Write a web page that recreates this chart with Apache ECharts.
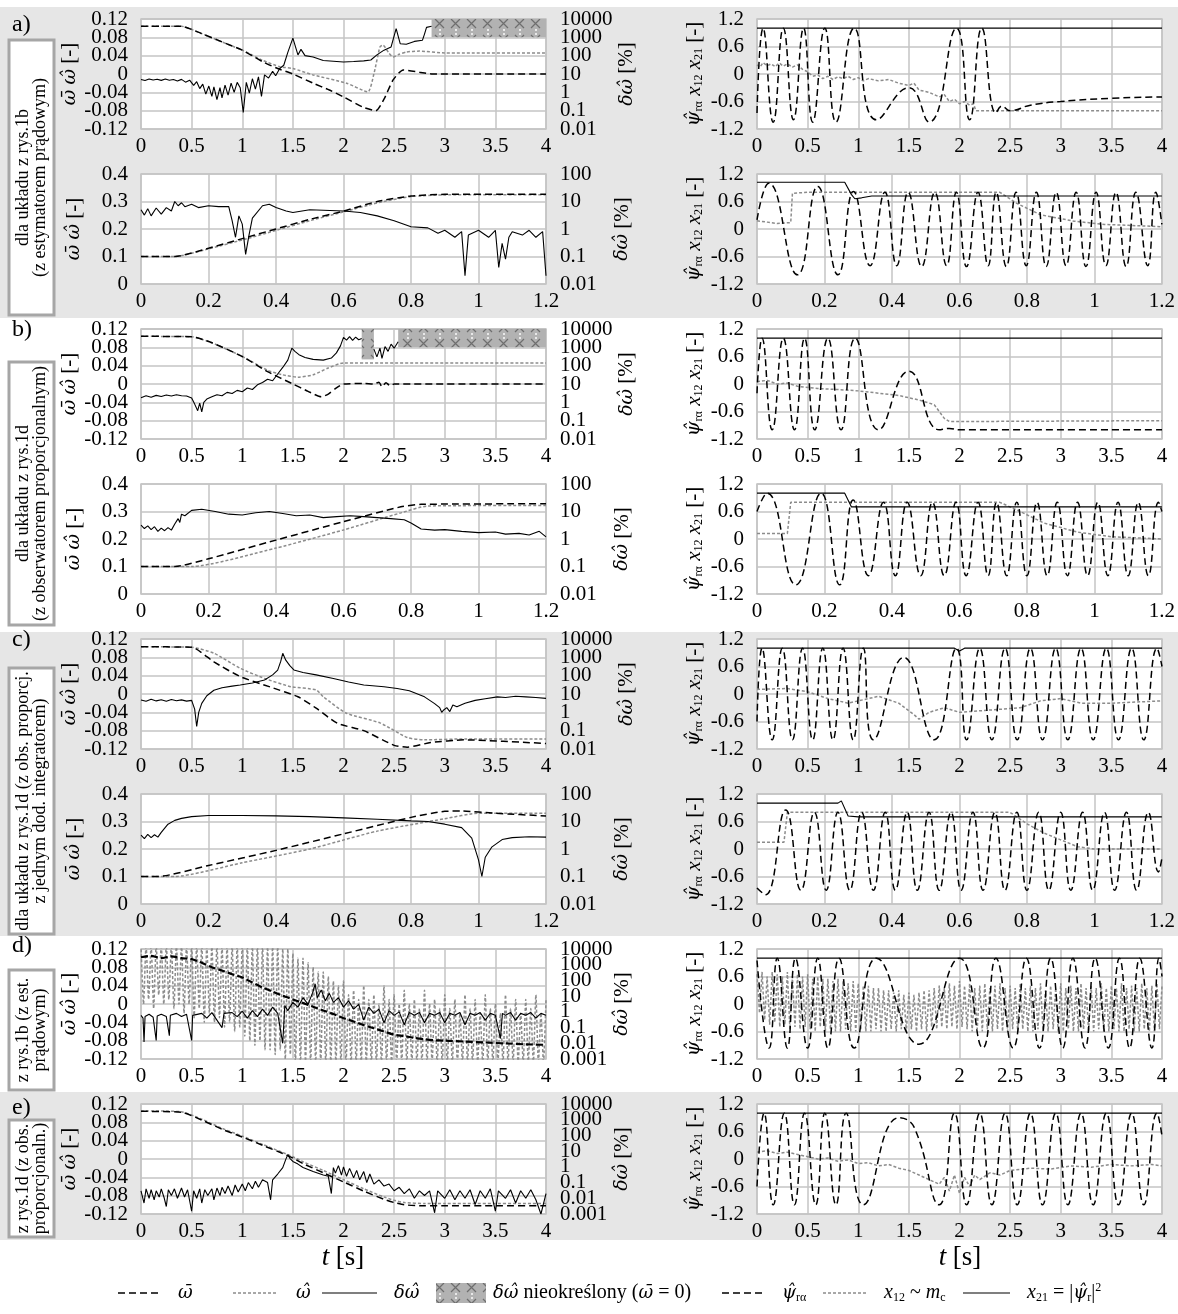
<!DOCTYPE html>
<html>
<head>
<meta charset="utf-8">
<script src="https://cdn.jsdelivr.net/npm/echarts@6.0.0/dist/echarts.min.js"></script>
<style>
html, body { margin: 0; padding: 0; background: #fff; }
#main { width: 1178px; height: 1314px; }
</style>
</head>
<body>
<div id="main"></div>
<script>
// ---- dane: [t, wartosc] ----
// a) gora: omega srednie, omega estymowane, blad (log)
const aTopBar = [[0,0.104],[0.4,0.104],[0.6,0.088],[0.8,0.07],[1.0,0.052],[1.2,0.027],[1.35,0.012],[1.5,0.0],[1.7,-0.02],[1.86,-0.035],[2.0,-0.05],[2.19,-0.072],[2.32,-0.08],[2.4,-0.055],[2.49,-0.013],[2.59,0.009],[2.75,0.004],[2.88,0.0],[4,0.0]];
const aTopHat = [[0,0.104],[0.4,0.104],[0.6,0.088],[0.8,0.07],[1.0,0.052],[1.2,0.03],[1.37,0.016],[1.5,0.012],[1.7,-0.002],[2.03,-0.02],[2.24,-0.039],[2.3,0.0],[2.36,0.059],[2.39,0.063],[2.45,0.045],[2.49,0.037],[2.55,0.043],[2.62,0.048],[2.75,0.05],[3.0,0.046],[4,0.046]];
const aTopDelta = [[0,5.0],[0.04,4.4],[0.08,5.4],[0.12,4.7],[0.16,5.2],[0.2,4.5],[0.24,5.3],[0.28,4.6],[0.32,5.0],[0.36,4.2],[0.4,5.1],[0.44,3.6],[0.48,4.6],[0.52,2.4],[0.55,3.8],[0.58,1.6],[0.61,2.8],[0.64,0.8],[0.67,2.2],[0.7,0.6],[0.72,2.0],[0.75,0.4],[0.78,1.8],[0.8,0.5],[0.83,2.5],[0.86,0.7],[0.89,3.2],[0.92,1.0],[0.95,3.5],[0.98,1.8],[1.01,0.08],[1.04,3.5],[1.07,0.9],[1.1,5.5],[1.13,1.5],[1.16,7],[1.19,0.6],[1.22,9],[1.26,6],[1.3,14],[1.33,8],[1.37,20],[1.41,30],[1.45,150],[1.5,900],[1.55,110],[1.58,220],[1.62,100],[1.7,85],[1.8,55],[1.9,50],[2.0,45],[2.1,48],[2.2,52],[2.27,58],[2.33,110],[2.4,200],[2.47,300],[2.52,3000],[2.56,450],[2.62,420],[2.7,600],[2.78,700],[2.8,1500],[2.82,3500],[2.87,4000]];
const aTopUndef = [[2.87, 4, 1000]];
// a) dol
const aBotBar = [[0,0.1],[0.1,0.1],[0.2,0.13],[0.3,0.165],[0.4,0.2],[0.5,0.235],[0.6,0.265],[0.7,0.3],[0.8,0.32],[0.9,0.326],[1.2,0.326]];
const aBotHat = [[0,0.1],[0.1,0.1],[0.2,0.128],[0.3,0.16],[0.4,0.195],[0.5,0.23],[0.6,0.262],[0.7,0.295],[0.8,0.318],[0.9,0.324],[1.2,0.325]];
const aBotDelta = [[0,5],[0.01,3.2],[0.02,5.5],[0.03,3.0],[0.045,5.8],[0.06,3.5],[0.075,6],[0.09,4.5],[0.1,10],[0.11,7],[0.12,9],[0.13,6.5],[0.15,8],[0.17,6],[0.2,7],[0.23,6.5],[0.26,6.5],[0.27,2.0],[0.28,0.5],[0.29,3],[0.3,1.5],[0.31,0.12],[0.32,0.6],[0.33,2.5],[0.36,7],[0.38,8],[0.4,6],[0.43,4.5],[0.45,4],[0.5,5],[0.6,4.5],[0.65,4],[0.7,3],[0.75,2],[0.8,1.2],[0.85,1.1],[0.88,0.7],[0.9,0.9],[0.93,0.5],[0.95,0.8],[0.96,0.02],[0.97,0.6],[1.0,0.9],[1.03,0.5],[1.05,0.9],[1.06,0.04],[1.07,0.3],[1.08,0.08],[1.09,0.5],[1.1,0.8],[1.13,0.6],[1.15,0.9],[1.17,0.5],[1.19,0.8],[1.2,0.02]];
// b) gora
const bTopBar = [[0,0.104],[0.5,0.103],[0.7,0.09],[1.0,0.06],[1.25,0.027],[1.5,0.0],[1.65,-0.016],[1.78,-0.028],[1.85,-0.022],[1.92,-0.01],[2.0,0.0],[2.2,0.001],[2.3,0.0],[2.35,0.004],[2.38,-0.006],[2.42,0.003],[2.46,-0.004],[2.5,0.0],[4,0.0]];
const bTopHat = [[0,0.104],[0.5,0.103],[0.7,0.09],[1.0,0.06],[1.25,0.03],[1.4,0.02],[1.55,0.015],[1.7,0.02],[1.85,0.035],[2.0,0.046],[4,0.046]];
const bTopDelta = [[0,1.8],[0.05,2.3],[0.1,1.9],[0.15,2.4],[0.2,2.1],[0.25,2.5],[0.3,2.2],[0.35,2.6],[0.4,2.3],[0.45,2.2],[0.5,1.7],[0.53,0.8],[0.56,0.35],[0.58,0.9],[0.6,0.3],[0.62,1.0],[0.65,1.5],[0.7,2.0],[0.75,2.6],[0.8,2.3],[0.85,3.5],[0.9,3.0],[0.95,4.5],[1.0,3.8],[1.05,6],[1.1,5],[1.15,9],[1.2,12],[1.25,18],[1.3,15],[1.35,35],[1.4,80],[1.45,200],[1.49,900],[1.52,600],[1.56,400],[1.62,280],[1.7,220],[1.8,200],[1.88,260],[1.93,500],[1.97,1200],[2.0,3500],[2.03,2500],[2.06,3800],[2.09,2400],[2.12,3600],[2.15,2600],[2.18,3000],[2.2,'-'],[2.3,800],[2.33,300],[2.36,900],[2.38,250],[2.41,1100],[2.44,600],[2.47,1500],[2.5,900],[2.54,2000]];
const bTopUndef = [[2.18, 2.3, 220], [2.54, 4, 1000]];
// b) dol
const bBotBar = [[0,0.1],[0.1,0.1],[0.2,0.128],[0.4,0.196],[0.6,0.263],[0.77,0.317],[0.83,0.326],[1.2,0.328]];
const bBotHat = [[0,0.1],[0.15,0.1],[0.4,0.167],[0.6,0.233],[0.77,0.295],[0.85,0.32],[1.2,0.322]];
const bBotDelta = [[0,3.2],[0.01,2.4],[0.02,3.0],[0.03,2.2],[0.04,2.8],[0.05,1.9],[0.06,2.5],[0.07,2.0],[0.08,2.6],[0.09,2.1],[0.1,3.5],[0.11,5.5],[0.115,4],[0.12,8],[0.13,7],[0.15,11],[0.18,12],[0.22,10],[0.26,8],[0.3,7.5],[0.34,9],[0.38,10],[0.42,8.5],[0.46,7],[0.5,7.5],[0.54,6],[0.58,6.5],[0.62,7],[0.66,6.5],[0.7,6],[0.74,5.5],[0.78,5],[0.8,3.8],[0.83,2.3],[0.87,2.1],[0.9,2.2],[0.95,1.9],[1.0,1.7],[1.05,1.8],[1.08,1.5],[1.12,1.6],[1.15,1.4],[1.18,1.9],[1.2,1.2]];
// c) gora
const cTopBar = [[0,0.103],[0.5,0.102],[0.72,0.07],[0.98,0.038],[1.28,0.015],[1.55,-0.006],[1.73,-0.031],[1.94,-0.064],[2.2,-0.08],[2.5,-0.112],[2.63,-0.116],[2.86,-0.106],[3.19,-0.1],[4,-0.108]];
const cTopHat = [[0,0.103],[0.5,0.102],[0.72,0.089],[0.98,0.056],[1.22,0.034],[1.48,0.016],[1.73,0.009],[1.8,-0.006],[2.03,-0.042],[2.36,-0.063],[2.63,-0.095],[2.8,-0.1],[3.2,-0.098],[4,-0.098]];
const cTopDelta = [[0,4.7],[0.05,4.0],[0.1,5.2],[0.15,4.2],[0.2,4.9],[0.25,4.0],[0.3,5.0],[0.35,4.3],[0.4,4.8],[0.45,4.1],[0.5,4.5],[0.53,1.5],[0.55,0.17],[0.57,1.0],[0.6,3.1],[0.65,8],[0.72,16],[0.8,22],[0.9,27],[0.98,31],[1.1,40],[1.22,58],[1.3,110],[1.35,200],[1.38,600],[1.4,1660],[1.43,700],[1.47,350],[1.51,204],[1.6,150],[1.73,110],[1.9,70],[2.05,45],[2.2,31],[2.4,25],[2.53,20],[2.65,15],[2.8,7],[2.9,3],[2.95,1.8],[2.97,1.0],[2.99,1.35],[3.02,1.8],[3.05,1.1],[3.08,2.5],[3.12,2.0],[3.2,3.1],[3.3,4.5],[3.4,5.5],[3.52,7],[3.6,6.5],[3.7,7.5],[3.8,7],[3.9,6.5],[4.0,5.8]];
// c) dol
const cBotBar = [[0,0.1],[0.05,0.1],[0.2,0.14],[0.4,0.195],[0.6,0.255],[0.8,0.315],[0.9,0.337],[0.95,0.338],[1.05,0.33],[1.2,0.32]];
const cBotHat = [[0,0.1],[0.1,0.1],[0.3,0.15],[0.5,0.2],[0.7,0.265],[0.9,0.31],[1.0,0.33],[1.2,0.33]];
const cBotDelta = [[0,3.2],[0.01,2.4],[0.02,3.4],[0.03,2.6],[0.04,3.3],[0.05,2.7],[0.06,4],[0.08,8],[0.1,11],[0.12,13],[0.15,15],[0.2,16.5],[0.3,16.5],[0.4,16],[0.5,15],[0.6,13.5],[0.7,12],[0.8,10.5],[0.85,10],[0.9,8],[0.95,6],[0.98,2.5],[1.0,0.4],[1.01,0.1],[1.02,0.5],[1.04,1.2],[1.07,2.2],[1.1,2.6],[1.15,2.8],[1.2,2.7]];
// d)
const dBar = [[0,0.102],[0.1,0.105],[0.2,0.1],[0.3,0.104],[0.4,0.1],[0.5,0.098],[0.6,0.09],[0.7,0.08],[0.8,0.073],[0.9,0.065],[1.0,0.058],[1.1,0.047],[1.2,0.036],[1.3,0.027],[1.4,0.018],[1.5,0.01],[1.6,0.002],[1.7,-0.006],[1.8,-0.014],[1.9,-0.022],[2.0,-0.031],[2.1,-0.038],[2.2,-0.046],[2.3,-0.053],[2.4,-0.06],[2.5,-0.067],[2.6,-0.07],[2.7,-0.074],[2.8,-0.077],[2.9,-0.079],[3.0,-0.08],[3.2,-0.082],[3.4,-0.084],[3.6,-0.086],[3.8,-0.088],[4.0,-0.089]];
const dHat = [[0,0.13],[0.025,0.0],[0.05,0.13],[0.075,0.01],[0.1,0.13],[0.125,-0.01],[0.15,0.13],[0.175,0.02],[0.2,0.13],[0.225,0.0],[0.25,0.13],[0.275,0.01],[0.3,0.13],[0.325,-0.01],[0.35,0.13],[0.375,0.0],[0.4,0.13],[0.425,-0.02],[0.45,0.13],[0.475,0.0],[0.5,0.13],[0.525,-0.03],[0.55,0.13],[0.575,-0.01],[0.6,0.13],[0.625,-0.04],[0.65,0.13],[0.675,-0.02],[0.7,0.13],[0.725,-0.04],[0.75,0.13],[0.775,-0.03],[0.8,0.13],[0.825,-0.05],[0.85,0.13],[0.875,-0.04],[0.9,0.13],[0.925,-0.06],[0.95,0.13],[0.975,-0.05],[1.0,0.13],[1.025,-0.07],[1.05,0.13],[1.075,-0.08],[1.1,0.13],[1.125,-0.09],[1.15,0.13],[1.175,-0.08],[1.2,0.13],[1.225,-0.1],[1.25,0.13],[1.275,-0.1],[1.3,0.13],[1.325,-0.11],[1.35,0.13],[1.375,-0.1],[1.4,0.12],[1.425,-0.12],[1.45,0.12],[1.475,-0.11],[1.5,0.11],[1.525,-0.13],[1.55,0.1],[1.575,-0.13],[1.6,0.1],[1.625,-0.13],[1.65,0.09],[1.675,-0.13],[1.7,0.08],[1.725,-0.13],[1.75,0.07],[1.775,-0.13],[1.8,0.07],[1.825,-0.13],[1.85,0.06],[1.875,-0.13],[1.9,0.05],[1.925,-0.13],[1.95,0.04],[1.975,-0.13],[2.0,0.05],[2.025,-0.13],[2.05,0.02],[2.075,-0.13],[2.1,0.03],[2.125,-0.13],[2.15,0.01],[2.175,-0.13],[2.2,0.04],[2.225,-0.13],[2.25,0.01],[2.275,-0.13],[2.3,0.02],[2.325,-0.13],[2.35,0.0],[2.375,-0.13],[2.4,0.04],[2.425,-0.13],[2.45,0.01],[2.475,-0.13],[2.5,0.02],[2.525,-0.13],[2.55,0.0],[2.575,-0.13],[2.6,0.03],[2.625,-0.13],[2.65,0.0],[2.675,-0.13],[2.7,0.01],[2.725,-0.13],[2.75,-0.01],[2.775,-0.13],[2.8,0.03],[2.825,-0.13],[2.85,0.0],[2.875,-0.13],[2.9,0.01],[2.925,-0.13],[2.95,-0.01],[2.975,-0.13],[3.0,0.02],[3.025,-0.13],[3.05,-0.01],[3.075,-0.13],[3.1,0.01],[3.125,-0.13],[3.15,-0.02],[3.175,-0.13],[3.2,0.02],[3.225,-0.13],[3.25,-0.01],[3.275,-0.13],[3.3,0.01],[3.325,-0.13],[3.35,-0.02],[3.375,-0.13],[3.4,0.02],[3.425,-0.13],[3.45,-0.01],[3.475,-0.13],[3.5,0.0],[3.525,-0.13],[3.55,-0.02],[3.575,-0.13],[3.6,0.02],[3.625,-0.13],[3.65,-0.01],[3.675,-0.13],[3.7,0.01],[3.725,-0.13],[3.75,-0.02],[3.775,-0.13],[3.8,0.01],[3.825,-0.13],[3.85,-0.01],[3.875,-0.13],[3.9,0.02],[3.925,-0.13],[3.95,-0.02],[3.975,-0.13],[4.0,0.01]];
const dDelta = [[0,0.6],[0.02,0.4],[0.03,0.012],[0.04,0.5],[0.08,0.7],[0.12,0.45],[0.15,0.015],[0.16,0.55],[0.2,0.7],[0.25,0.5],[0.28,0.03],[0.29,0.6],[0.35,0.8],[0.4,0.5],[0.45,0.7],[0.5,0.015],[0.51,0.6],[0.6,0.8],[0.65,0.4],[0.7,0.9],[0.75,0.3],[0.8,0.1],[0.82,0.8],[0.9,0.9],[0.95,0.5],[1.0,1.1],[1.05,0.4],[1.1,1.2],[1.15,0.5],[1.2,1.5],[1.25,0.6],[1.3,2],[1.35,0.8],[1.4,0.01],[1.42,2.5],[1.45,1.2],[1.5,4],[1.55,2],[1.6,8],[1.65,3],[1.7,20],[1.72,60],[1.74,8],[1.78,25],[1.82,5],[1.86,15],[1.9,4],[1.95,8],[2.0,2],[2.05,5],[2.1,1.5],[2.15,3],[2.2,0.3],[2.25,2],[2.3,0.8],[2.35,1.5],[2.4,0.2],[2.45,1.2],[2.5,0.6],[2.55,1],[2.6,0.15],[2.65,0.9],[2.7,0.6],[2.75,0.9],[2.8,0.2],[2.85,0.8],[2.9,0.6],[2.95,0.9],[3.0,0.2],[3.05,0.8],[3.1,0.6],[3.15,0.9],[3.2,0.15],[3.25,0.8],[3.3,0.6],[3.35,0.9],[3.4,0.3],[3.45,0.8],[3.5,0.6],[3.55,0.02],[3.57,0.8],[3.6,0.6],[3.65,0.9],[3.7,0.3],[3.75,0.8],[3.8,0.6],[3.85,0.9],[3.9,0.4],[3.95,0.8],[4.0,0.6]];
// e)
const eBar = [[0,0.104],[0.4,0.102],[0.6,0.085],[0.8,0.065],[1.0,0.048],[1.2,0.03],[1.4,0.012],[1.5,0.002],[1.6,-0.01],[1.8,-0.03],[2.0,-0.05],[2.2,-0.07],[2.4,-0.088],[2.5,-0.095],[2.6,-0.1],[2.8,-0.102],[3.0,-0.102],[3.5,-0.102],[4,-0.102]];
const eHat = [[0,0.105],[0.4,0.103],[0.6,0.087],[0.8,0.067],[1.0,0.05],[1.2,0.032],[1.4,0.014],[1.5,0.005],[1.6,-0.006],[1.8,-0.025],[2.0,-0.045],[2.2,-0.065],[2.4,-0.083],[2.5,-0.09],[2.6,-0.095],[2.8,-0.097],[3.0,-0.097],[4,-0.097]];
const eDelta = [[0,0.03],[0.03,0.005],[0.05,0.04],[0.08,0.01],[0.1,0.035],[0.13,0.008],[0.15,0.03],[0.18,0.012],[0.2,0.04],[0.23,0.01],[0.25,0.003],[0.27,0.035],[0.3,0.015],[0.33,0.04],[0.36,0.01],[0.4,0.045],[0.43,0.012],[0.46,0.035],[0.5,0.0015],[0.52,0.03],[0.55,0.01],[0.58,0.04],[0.6,0.005],[0.63,0.035],[0.66,0.015],[0.7,0.04],[0.72,0.008],[0.75,0.045],[0.78,0.015],[0.8,0.05],[0.83,0.02],[0.86,0.06],[0.9,0.015],[0.93,0.07],[0.96,0.025],[1.0,0.08],[1.03,0.03],[1.06,0.1],[1.1,0.04],[1.13,0.12],[1.16,0.05],[1.2,0.15],[1.25,0.1],[1.28,0.008],[1.3,0.15],[1.35,0.35],[1.4,0.9],[1.43,3],[1.45,6],[1.47,3.5],[1.5,2.2],[1.55,1.5],[1.6,0.9],[1.7,0.5],[1.8,0.3],[1.85,0.25],[1.88,0.02],[1.9,0.9],[1.92,0.4],[1.95,1.2],[1.98,0.3],[2.0,1.0],[2.03,0.25],[2.06,0.8],[2.1,0.2],[2.13,0.6],[2.16,0.15],[2.2,0.5],[2.23,0.1],[2.26,0.35],[2.3,0.08],[2.35,0.15],[2.4,0.06],[2.45,0.08],[2.5,0.03],[2.55,0.05],[2.6,0.02],[2.65,0.04],[2.7,0.01],[2.75,0.03],[2.8,0.015],[2.85,0.03],[2.9,0.0012],[2.93,0.03],[3.0,0.01],[3.05,0.035],[3.1,0.008],[3.15,0.03],[3.2,0.01],[3.25,0.035],[3.3,0.004],[3.35,0.03],[3.4,0.01],[3.45,0.04],[3.5,0.0015],[3.53,0.03],[3.6,0.01],[3.65,0.035],[3.7,0.005],[3.75,0.03],[3.8,0.01],[3.85,0.035],[3.9,0.008],[3.95,0.001],[4.0,0.02]];

// prawa kolumna: psi_ra, x12, x21
const aTopPsi = [[0,-0.85],[0.06,1.0],[0.16,-1.05],[0.26,1.0],[0.36,-1.0],[0.46,1.0],[0.55,-1.05],[0.67,1.0],[0.78,-1.05],[0.96,1.0],[1.18,-1.0],[1.5,-0.3],[1.7,-1.05],[1.97,1.0],[2.1,-1.0],[2.22,1.0],[2.36,-0.85],[2.42,-0.7],[2.5,-0.8],[2.7,-0.68],[3.0,-0.6],[3.5,-0.53],[4,-0.5]];
const aTopX12 = [[0,0.2],[0.03,0.15],[0.06,0.25],[0.1,0.18],[0.14,0.22],[0.18,0.16],[0.22,0.24],[0.26,0.17],[0.3,0.22],[0.35,0.15],[0.4,0.2],[0.45,0.1],[0.5,0.05],[0.55,-0.05],[0.6,-0.02],[0.65,-0.1],[0.7,-0.05],[0.75,-0.12],[0.8,-0.06],[0.85,-0.1],[0.9,-0.05],[0.95,-0.12],[1.0,-0.08],[1.05,-0.15],[1.1,-0.1],[1.2,-0.15],[1.3,-0.12],[1.4,-0.2],[1.5,-0.25],[1.55,-0.2],[1.6,-0.35],[1.7,-0.4],[1.8,-0.5],[1.85,-0.45],[1.9,-0.6],[1.95,-0.55],[2.0,-0.65],[2.05,-0.6],[2.1,-0.68],[2.14,-0.65],[2.16,-0.8],[4,-0.8]];
const aTopX21 = [[0,1.0],[4,1.0]];
const aBotPsi = [[0,0.2],[0.035,1.0],[0.12,-1.0],[0.18,0.93],[0.24,-1.0],[0.286,0.82],[0.335,-0.8],[0.379,0.8],[0.414,-0.8],[0.448,0.8],[0.488,-0.82],[0.527,0.8],[0.562,-0.8],[0.591,0.8],[0.621,-0.82],[0.655,0.8],[0.685,-0.8],[0.709,0.8],[0.739,-0.82],[0.768,0.8],[0.798,-0.8],[0.828,0.8],[0.857,-0.82],[0.887,0.8],[0.916,-0.8],[0.946,0.8],[0.975,-0.82],[1.005,0.8],[1.034,-0.8],[1.064,0.8],[1.094,-0.82],[1.123,0.8],[1.158,-0.8],[1.182,0.8],[1.2,0.1]];
const aBotX12 = [[0,0.18],[0.03,0.15],[0.06,0.12],[0.1,0.14],[0.105,0.78],[0.15,0.8],[0.72,0.8],[0.77,0.56],[0.84,0.31],[0.94,0.17],[1.03,0.1],[1.1,0.08],[1.2,0.05]];
const aBotX21 = [[0,1.02],[0.26,1.02],[0.28,0.75],[0.29,0.66],[0.31,0.68],[0.34,0.72],[1.2,0.72]];
const bTopPsi = [[0,-0.2],[0.05,1.0],[0.15,-1.0],[0.26,1.0],[0.37,-1.0],[0.47,1.0],[0.57,-1.0],[0.7,1.0],[0.83,-1.0],[0.97,1.0],[1.2,-1.0],[1.5,0.28],[1.8,-1.0],[1.9,-0.97],[2.0,-1.0],[4,-1.0]];
const bTopX12 = [[0,0.05],[0.1,0.08],[0.2,0.0],[0.3,0.02],[0.4,-0.05],[0.6,-0.1],[0.8,-0.12],[1.0,-0.15],[1.2,-0.2],[1.4,-0.25],[1.6,-0.35],[1.75,-0.45],[1.85,-0.75],[1.9,-0.82],[4,-0.8]];
const bTopX21 = [[0,1.0],[4,1.0]];
const bBotPsi = [[0,0.6],[0.03,1.0],[0.115,-1.0],[0.19,1.0],[0.245,-1.0],[0.285,0.85],[0.33,-0.8],[0.375,0.8],[0.41,-0.8],[0.445,0.8],[0.485,-0.8],[0.52,0.8],[0.555,-0.8],[0.59,0.8],[0.62,-0.8],[0.655,0.8],[0.685,-0.8],[0.71,0.8],[0.74,-0.8],[0.77,0.8],[0.8,-0.8],[0.83,0.8],[0.86,-0.8],[0.89,0.8],[0.92,-0.8],[0.95,0.8],[0.98,-0.8],[1.01,0.8],[1.04,-0.8],[1.07,0.8],[1.1,-0.8],[1.13,0.8],[1.16,-0.8],[1.19,0.8],[1.2,0.6]];
const bBotX12 = [[0,0.12],[0.09,0.12],[0.1,0.8],[0.72,0.8],[0.78,0.6],[0.85,0.35],[0.95,0.15],[1.05,0.05],[1.2,0.0]];
const bBotX21 = [[0,1.0],[0.26,1.0],[0.28,0.7],[1.2,0.7]];
const cTopPsi = [[0,-0.6],[0.05,1.0],[0.15,-1.0],[0.25,1.0],[0.35,-1.0],[0.45,1.0],[0.55,-1.0],[0.65,1.0],[0.75,-1.0],[0.85,1.0],[0.95,-1.0],[1.05,1.0],[1.15,-1.0],[1.45,0.8],[1.75,-1.0],[1.97,1.0],[2.07,-1.0],[2.2,1.0],[2.32,-1.0],[2.45,1.0],[2.57,-1.0],[2.7,1.0],[2.82,-1.0],[2.95,1.0],[3.07,-1.0],[3.2,1.0],[3.32,-1.0],[3.45,1.0],[3.57,-1.0],[3.7,1.0],[3.82,-1.0],[3.95,1.0],[4,0.6]];
const cTopX12 = [[0,0.1],[0.3,0.12],[0.5,0.05],[0.7,-0.1],[0.9,-0.2],[1.0,-0.15],[1.2,-0.05],[1.4,-0.2],[1.55,-0.45],[1.6,-0.55],[1.7,-0.4],[1.85,-0.3],[2.0,-0.4],[2.3,-0.35],[2.6,-0.3],[2.8,-0.15],[3.0,-0.1],[3.2,-0.2],[3.5,-0.2],[4,-0.15]];
const cTopX21 = [[0,1.0],[1.95,1.0],[2.0,0.94],[2.05,1.0],[4,1.0]];
const cBotPsi = [[0,-0.85],[0.025,-1.0],[0.085,0.85],[0.13,-0.9],[0.17,0.8],[0.205,-0.9],[0.24,0.8],[0.275,-0.9],[0.31,0.8],[0.345,-0.9],[0.38,0.8],[0.41,-0.9],[0.445,0.8],[0.475,-0.9],[0.51,0.8],[0.54,-0.9],[0.575,0.8],[0.605,-0.9],[0.64,0.8],[0.67,-0.9],[0.705,0.8],[0.735,-0.9],[0.77,0.8],[0.8,-0.9],[0.835,0.8],[0.865,-0.9],[0.9,0.8],[0.93,-0.9],[0.965,0.8],[0.995,-0.9],[1.03,0.8],[1.06,-0.9],[1.095,0.8],[1.125,-0.9],[1.16,0.8],[1.19,-0.5],[1.2,-0.2]];
const cBotX12 = [[0,0.15],[0.08,0.15],[0.09,0.8],[0.75,0.8],[0.8,0.55],[0.85,0.35],[0.9,0.2],[0.95,0.05],[1.0,0.0],[1.2,0.0]];
const cBotX21 = [[0,1.0],[0.24,1.0],[0.25,1.05],[0.27,0.72],[0.3,0.7],[1.2,0.7]];
const dPsi = [[0,0.95],[0.12,-0.96],[0.2,1.0],[0.3,-0.96],[0.38,1.0],[0.5,-0.96],[0.6,1.0],[0.7,-0.96],[0.81,1.0],[0.96,-0.96],[1.18,1.0],[1.6,-0.88],[2.0,1.0],[2.23,-0.96],[2.36,1.0],[2.53,-0.96],[2.66,1.0],[2.79,-0.96],[2.9,1.0],[3.02,-0.96],[3.12,1.0],[3.24,-0.96],[3.34,1.0],[3.47,-0.96],[3.58,1.0],[3.68,-0.96],[3.78,1.0],[3.9,-0.96],[3.97,1.0],[4.0,0.6]];
const dX12 = [[0,0.65],[0.025,-0.2],[0.05,0.7],[0.075,-0.35],[0.1,0.6],[0.125,-0.45],[0.15,0.7],[0.175,-0.4],[0.2,0.65],[0.225,-0.5],[0.25,0.6],[0.275,-0.45],[0.3,0.7],[0.325,-0.55],[0.35,0.6],[0.375,-0.5],[0.4,0.65],[0.425,-0.55],[0.45,0.6],[0.475,-0.5],[0.5,0.65],[0.525,-0.55],[0.55,0.55],[0.575,-0.6],[0.6,0.6],[0.625,-0.5],[0.65,0.55],[0.675,-0.6],[0.7,0.55],[0.725,-0.55],[0.75,0.5],[0.775,-0.6],[0.8,0.55],[0.825,-0.6],[0.85,0.5],[0.875,-0.55],[0.9,0.45],[0.925,-0.6],[0.95,0.5],[0.975,-0.6],[1.0,0.45],[1.025,-0.55],[1.05,0.4],[1.075,-0.6],[1.1,0.4],[1.125,-0.6],[1.15,0.35],[1.175,-0.55],[1.2,0.35],[1.225,-0.6],[1.25,0.3],[1.275,-0.6],[1.3,0.3],[1.325,-0.55],[1.35,0.25],[1.375,-0.6],[1.4,0.3],[1.425,-0.55],[1.45,0.2],[1.475,-0.6],[1.5,0.25],[1.525,-0.55],[1.55,0.2],[1.575,-0.6],[1.6,0.25],[1.625,-0.55],[1.65,0.3],[1.675,-0.6],[1.7,0.3],[1.725,-0.5],[1.75,0.35],[1.775,-0.55],[1.8,0.4],[1.825,-0.5],[1.85,0.35],[1.875,-0.55],[1.9,0.45],[1.925,-0.5],[1.95,0.4],[1.975,-0.55],[2.0,0.5],[2.025,-0.5],[2.05,0.4],[2.075,-0.55],[2.1,0.45],[2.125,-0.6],[2.15,0.35],[2.175,-0.55],[2.2,0.4],[2.225,-0.6],[2.25,0.45],[2.275,-0.55],[2.3,0.35],[2.325,-0.6],[2.35,0.4],[2.375,-0.55],[2.4,0.45],[2.425,-0.6],[2.45,0.35],[2.475,-0.6],[2.5,0.4],[2.525,-0.55],[2.55,0.35],[2.575,-0.6],[2.6,0.45],[2.625,-0.55],[2.65,0.35],[2.675,-0.6],[2.7,0.4],[2.725,-0.6],[2.75,0.35],[2.775,-0.55],[2.8,0.45],[2.825,-0.6],[2.85,0.3],[2.875,-0.6],[2.9,0.4],[2.925,-0.55],[2.95,0.35],[2.975,-0.6],[3.0,0.45],[3.025,-0.6],[3.05,0.35],[3.075,-0.55],[3.1,0.4],[3.125,-0.6],[3.15,0.35],[3.175,-0.6],[3.2,0.45],[3.225,-0.55],[3.25,0.35],[3.275,-0.6],[3.3,0.4],[3.325,-0.6],[3.35,0.35],[3.375,-0.55],[3.4,0.45],[3.425,-0.6],[3.45,0.35],[3.475,-0.6],[3.5,0.4],[3.525,-0.55],[3.55,0.35],[3.575,-0.6],[3.6,0.45],[3.625,-0.6],[3.65,0.35],[3.675,-0.55],[3.7,0.4],[3.725,-0.6],[3.75,0.35],[3.775,-0.6],[3.8,0.45],[3.825,-0.55],[3.85,0.35],[3.875,-0.6],[3.9,0.4],[3.925,-0.6],[3.95,0.45],[3.975,-0.55],[4.0,0.4]];
const dX21 = [[0,1.0],[4,1.0]];
const ePsi = [[0,-0.6],[0.07,1.0],[0.16,-1.0],[0.27,1.0],[0.37,-1.0],[0.47,1.0],[0.58,-1.0],[0.67,1.0],[0.78,-1.0],[0.88,1.0],[1.05,-1.0],[1.4,0.9],[1.55,0.7],[1.8,-1.0],[1.95,1.0],[2.07,-1.0],[2.2,1.0],[2.32,-1.0],[2.45,1.0],[2.57,-1.0],[2.7,1.0],[2.82,-1.0],[2.95,1.0],[3.07,-1.0],[3.2,1.0],[3.32,-1.0],[3.45,1.0],[3.57,-1.0],[3.7,1.0],[3.82,-1.0],[3.95,1.0],[4.0,0.5]];
const eX12 = [[0,0.15],[0.1,0.18],[0.2,0.12],[0.3,0.15],[0.4,0.1],[0.5,0.05],[0.6,0.0],[0.7,0.02],[0.8,-0.05],[0.9,-0.02],[1.0,-0.1],[1.1,-0.08],[1.2,-0.15],[1.3,-0.12],[1.4,-0.2],[1.5,-0.25],[1.6,-0.35],[1.7,-0.45],[1.8,-0.55],[1.85,-0.4],[1.9,-0.7],[1.95,-0.35],[2.0,-0.75],[2.05,-0.4],[2.1,-0.6],[2.15,-0.35],[2.2,-0.45],[2.3,-0.3],[2.4,-0.35],[2.5,-0.25],[2.7,-0.2],[2.9,-0.22],[3.1,-0.15],[3.3,-0.18],[3.5,-0.12],[3.7,-0.15],[3.9,-0.12],[4,-0.15]];
const eX21 = [[0,1.0],[4,1.0]];

// podzialki osi
const timeLong = [0, 4, 0.5];
const timeShort = [0, 1.2, 0.2];
const yTopTicks = [-0.12, -0.08, -0.04, 0, 0.04, 0.08, 0.12];
const yBotTicks = [0, 0.1, 0.2, 0.3, 0.4];
const yRightTicks = [-1.2, -0.6, 0, 0.6, 1.2];
const logTicks6 = [0.01, 0.1, 1, 10, 100, 1000, 10000];
const logTicks4 = [0.01, 0.1, 1, 10, 100];
const logTicks7 = [0.001, 0.01, 0.1, 1, 10, 100, 1000, 10000];
const boxTexts = [
  ['dla układu z rys.1b', '(z estymatorem prądowym)'],
  ['dla układu z rys.1d', '(z obserwatorem proporcjonalnym)'],
  ['dla układu z rys.1d (z obs. proporcj.', 'z jednym dod. integratorem)'],
  ['z rys.1b (z est.', 'prądowym)'],
  ['z rys.1d (z obs.', 'proporcjonaln.)']
];
const sectionLetters = ['a)', 'b)', 'c)', 'd)', 'e)'];

// ---- wyglad ----
const FONT = '"Liberation Serif", "Times New Roman", serif';
const GFONT = '"DejaVu Serif", serif';
const GRID_C = '#c4c4c4';
const TOPS = [19, 174, 329, 484, 639, 794, 949, 1104];
const PH = 110;

function makeHatch() {
  const c = document.createElement('canvas');
  c.width = 16; c.height = 16;
  const g = c.getContext('2d');
  g.fillStyle = '#b2b2b2'; g.fillRect(0, 0, 16, 16);
  g.strokeStyle = '#6e6e6e'; g.lineWidth = 1.2;
  g.beginPath();
  g.moveTo(3, 3); g.lineTo(12, 12); g.moveTo(12, 3); g.lineTo(3, 12);
  g.stroke();
  g.fillStyle = '#e8e8e8';
  g.fillRect(7, 1, 2, 2); g.fillRect(7, 13, 2, 2);
  return c;
}
const hatch = makeHatch();

const grids = [], xAxes = [], yAxes = [], series = [];
// etykiety jako rich text, bo zwykly tekst gubi czcionke szeryfowa
const num = { fontFamily: FONT, fontSize: 21, color: '#000' };
const fmt = v => '{n|' + String(+(+v).toFixed(2)) + '}';
const fmtLog = v => '{n|' + String(+(+v).toPrecision(2)) + '}';
const lbl = { color: '#000', fontFamily: FONT, fontSize: 21 };
const greek = { fontStyle: 'italic', fontFamily: GFONT, fontSize: 19 };
const ital = { fontStyle: 'italic', fontFamily: FONT, fontSize: 21 };
const plain = { fontFamily: FONT, fontSize: 21 };
const sub = { fontFamily: FONT, fontSize: 12, verticalAlign: 'bottom', padding: [10, 0, 0, 0] };

const styles = {
  blackDash: { color: '#000', width: 1.5, type: [7, 4] },
  blackDashBold: { color: '#000', width: 2.2, type: [7, 3] },
  grayDash: { color: '#8c8c8c', width: 1.5, type: [3, 2] },
  solid: { color: '#000', width: 1.1 }
};
const noLine = { show: false };

function addLine(xi, yi, data, st, smooth, extra) {
  series.push(Object.assign({
    type: 'line', xAxisIndex: xi, yAxisIndex: yi, data: data,
    showSymbol: false, symbol: 'none', smooth: smooth || false,
    lineStyle: styles[st], silent: true, animation: false
  }, extra || {}));
}

function addXAxis(gi, ticks) {
  xAxes.push({
    gridIndex: gi, type: 'value', min: ticks[0], max: ticks[1], interval: ticks[2],
    axisLine: noLine, axisTick: noLine,
    splitLine: { show: true, lineStyle: { color: GRID_C, width: 1.5 } },
    axisLabel: { margin: 7, formatter: fmt, showMinLabel: true, showMaxLabel: true, rich: { n: num } }
  });
  return xAxes.length - 1;
}

function addGrid(left, top) {
  grids.push({ left: left, top: top, width: 405, height: PH, show: true,
    backgroundColor: '#fff', borderColor: GRID_C, borderWidth: 1.5 });
  return grids.length - 1;
}

// gesto ulozone etykiety dzielone na dwie nakladajace sie osie (co druga),
// zeby ECharts nie ukrywal zadnej z nich
function labelAxes(gi, type, pos, ticks, margin, formatter, main) {
  const halves = [ticks.filter((v, i) => i % 2 === 0), ticks.filter((v, i) => i % 2 === 1)];
  const first = yAxes.length;
  halves.forEach((vals, k) => {
    const ax = {
      gridIndex: gi, type: type, min: ticks[0], max: ticks[ticks.length - 1], position: pos,
      axisLine: noLine, axisTick: noLine, splitLine: noLine,
      axisLabel: { margin: margin, formatter: formatter, customValues: vals,
        showMinLabel: true, showMaxLabel: true, rich: { n: num } }
    };
    if (type === 'log') { ax.logBase = 10; ax.splitNumber = ticks.length - 1; }
    else { ax.interval = ticks[1] - ticks[0]; }
    if (k === 0) Object.assign(ax, main);
    yAxes.push(ax);
  });
  return first;
}

function leftPanel(row, ticks, yTicks, logT, bar, hat, delta, undef, barStyle) {
  const gi = addGrid(141, TOPS[row]);
  const xi = addXAxis(gi, ticks);
  const logMax = logT[logT.length - 1];
  const yl = labelAxes(gi, 'value', 'left', yTicks, 13, fmt, {
    splitLine: { show: true, lineStyle: { color: GRID_C, width: 1.5 } },
    name: '{g|\u03c9\u0304} {g|\u03c9\u0302} {p|[-]}', nameLocation: 'middle', nameRotate: 90, nameGap: 56,
    nameTextStyle: Object.assign({ rich: { g: greek, p: plain } }, lbl)
  });
  const yr = labelAxes(gi, 'log', 'right', logT, 14, fmtLog, {
    name: '{g|\u03b4\u03c9\u0302} {p|[%]}', nameLocation: 'middle', nameRotate: 90, nameGap: 66,
    nameTextStyle: Object.assign({ rich: { g: greek, p: plain } }, lbl)
  });
  addLine(xi, yl, hat, 'grayDash', 0.2);
  addLine(xi, yl, bar, barStyle || 'blackDash', 0.2);
  const extra = {};
  if (undef) {
    extra.markArea = {
      silent: true,
      itemStyle: { color: { image: hatch, repeat: 'repeat' } },
      data: undef.map(u => [{ xAxis: u[0], yAxis: u[2] }, { xAxis: u[1], yAxis: logMax }])
    };
  }
  addLine(xi, yr, delta, 'solid', false, extra);
}

function rightPanel(row, ticks, psi, x12, x21) {
  const gi = addGrid(757, TOPS[row]);
  const xi = addXAxis(gi, ticks);
  yAxes.push({
    gridIndex: gi, type: 'value', min: -1.2, max: 1.2, interval: 0.6,
    axisLine: noLine, axisTick: noLine,
    splitLine: { show: true, lineStyle: { color: GRID_C, width: 1.5 } },
    axisLabel: { margin: 13, formatter: fmt, customValues: yRightTicks, showMinLabel: true, showMaxLabel: true, rich: { n: num } },
    name: '{g|\u03c8\u0302}{s|r\u03b1} {i|x}{s|12} {i|x}{s|21} {p|[-]}',
    nameLocation: 'middle', nameRotate: 90, nameGap: 52,
    nameTextStyle: Object.assign({ rich: { g: greek, i: ital, s: sub, p: plain } }, lbl)
  });
  const yi = yAxes.length - 1;
  addLine(xi, yi, x12, 'grayDash', false);
  addLine(xi, yi, psi, 'blackDash', 0.5);
  addLine(xi, yi, x21, 'solid', false);
}

const L = timeLong, S = timeShort;
leftPanel(0, L, yTopTicks, logTicks6, aTopBar, aTopHat, aTopDelta, aTopUndef);
leftPanel(1, S, yBotTicks, logTicks4, aBotBar, aBotHat, aBotDelta);
leftPanel(2, L, yTopTicks, logTicks6, bTopBar, bTopHat, bTopDelta, bTopUndef);
leftPanel(3, S, yBotTicks, logTicks4, bBotBar, bBotHat, bBotDelta);
leftPanel(4, L, yTopTicks, logTicks6, cTopBar, cTopHat, cTopDelta);
leftPanel(5, S, yBotTicks, logTicks4, cBotBar, cBotHat, cBotDelta);
leftPanel(6, L, yTopTicks, logTicks7, dBar, dHat, dDelta, null, 'blackDashBold');
leftPanel(7, L, yTopTicks, logTicks7, eBar, eHat, eDelta);
rightPanel(0, L, aTopPsi, aTopX12, aTopX21);
rightPanel(1, S, aBotPsi, aBotX12, aBotX21);
rightPanel(2, L, bTopPsi, bTopX12, bTopX21);
rightPanel(3, S, bBotPsi, bBotX12, bBotX21);
rightPanel(4, L, cTopPsi, cTopX12, cTopX21);
rightPanel(5, S, cBotPsi, cBotX12, cBotX21);
rightPanel(6, L, dPsi, dX12, dX21);
rightPanel(7, L, ePsi, eX12, eX21);

// tla sekcji, ramki z opisem, litery
const graphic = [];
[[7, 311], [632, 304], [1092, 148]].forEach(b => {
  graphic.push({ type: 'rect', z: -10, shape: { x: 0, y: b[0], width: 1178, height: b[1] }, style: { fill: '#e6e6e6' } });
});
const boxes = [[40, 315], [362, 625], [668, 934], [970, 1090], [1120, 1237]];
boxes.forEach((b, i) => {
  graphic.push({ type: 'rect', shape: { x: 9, y: b[0], width: 45, height: b[1] - b[0] },
    style: { fill: '#fff', stroke: '#a6a6a6', lineWidth: 3 } });
  graphic.push({ type: 'text', x: 31.5, y: (b[0] + b[1]) / 2, rotation: Math.PI / 2,
    style: { text: '{b|' + boxTexts[i][0] + '}\n{b|' + boxTexts[i][1] + '}',
      rich: { b: { fontFamily: FONT, fontSize: 18, lineHeight: 17 } },
      fontFamily: FONT, fontSize: 18, lineHeight: 17,
      align: 'center', verticalAlign: 'middle', fill: '#000' } });
});
const letterY = [25, 330, 640, 946, 1108];
sectionLetters.forEach((s, i) => {
  graphic.push({ type: 'text', x: 12, y: letterY[i],
    style: { text: '{l|' + s + '}', rich: { l: { fontFamily: FONT, fontSize: 24 } },
      fontFamily: FONT, fontSize: 24, verticalAlign: 'middle', fill: '#000' } });
});
// os czasu
[343, 960].forEach(x => {
  graphic.push({ type: 'text', x: x, y: 1258, style: { text: '{i|t} {n|[s]}', fontFamily: FONT, fontSize: 26,
    align: 'center', verticalAlign: 'middle', fill: '#000',
    rich: { i: { fontStyle: 'italic', fontFamily: FONT, fontSize: 27 }, n: { fontFamily: FONT, fontSize: 27 } } } });
});
// legenda
const LY = 1293;
function legLine(x1, x2, st) {
  const s = styles[st];
  graphic.push({ type: 'line', shape: { x1: x1, y1: LY, x2: x2, y2: LY },
    style: { stroke: s.color, lineWidth: s.width, lineDash: Array.isArray(s.type) ? s.type : null } });
}
function legText(x, txt) {
  graphic.push({ type: 'text', x: x, y: LY, style: { text: txt, fontFamily: FONT, fontSize: 20,
    align: 'left', verticalAlign: 'middle', fill: '#000',
    rich: { n: { fontFamily: FONT, fontSize: 20 },
            g: { fontStyle: 'italic', fontFamily: GFONT, fontSize: 18 },
            i: { fontStyle: 'italic', fontFamily: FONT, fontSize: 20 },
            s: { fontFamily: FONT, fontSize: 12, verticalAlign: 'bottom', padding: [10, 0, 0, 0] },
            t: { fontFamily: FONT, fontSize: 12, verticalAlign: 'top', padding: [0, 0, 10, 0] } } } });
}
legLine(118, 158, 'blackDash'); legText(178, '{g|\u03c9\u0304}');
legLine(233, 278, 'grayDash'); legText(296, '{g|\u03c9\u0302}');
legLine(322, 377, 'solid'); legText(394, '{g|\u03b4\u03c9\u0302}');
graphic.push({ type: 'rect', shape: { x: 436, y: LY - 10, width: 50, height: 20 },
  style: { fill: { image: hatch, repeat: 'repeat' } } });
legText(493, '{g|\u03b4\u03c9\u0302}{n| nieokreślony (}{g|\u03c9\u0304}{n| = 0)}');
legLine(722, 762, 'blackDash'); legText(782, '{g|\u03c8\u0302}{s|r\u03b1}');
legLine(823, 868, 'grayDash'); legText(884, '{i|x}{s|12}{n| ~ }{i|m}{s|c}');
legLine(963, 1010, 'solid'); legText(1027, '{i|x}{s|21}{n| = |}{g|\u03c8\u0302}{s|r}{n||}{t|2}');

const chart = echarts.init(document.getElementById('main'), null, { renderer: 'canvas' });
chart.setOption({
  animation: false,
  backgroundColor: '#fff',
  textStyle: { fontFamily: FONT },
  grid: grids, xAxis: xAxes, yAxis: yAxes, series: series,
  graphic: graphic
});
</script>
</body>
</html>
